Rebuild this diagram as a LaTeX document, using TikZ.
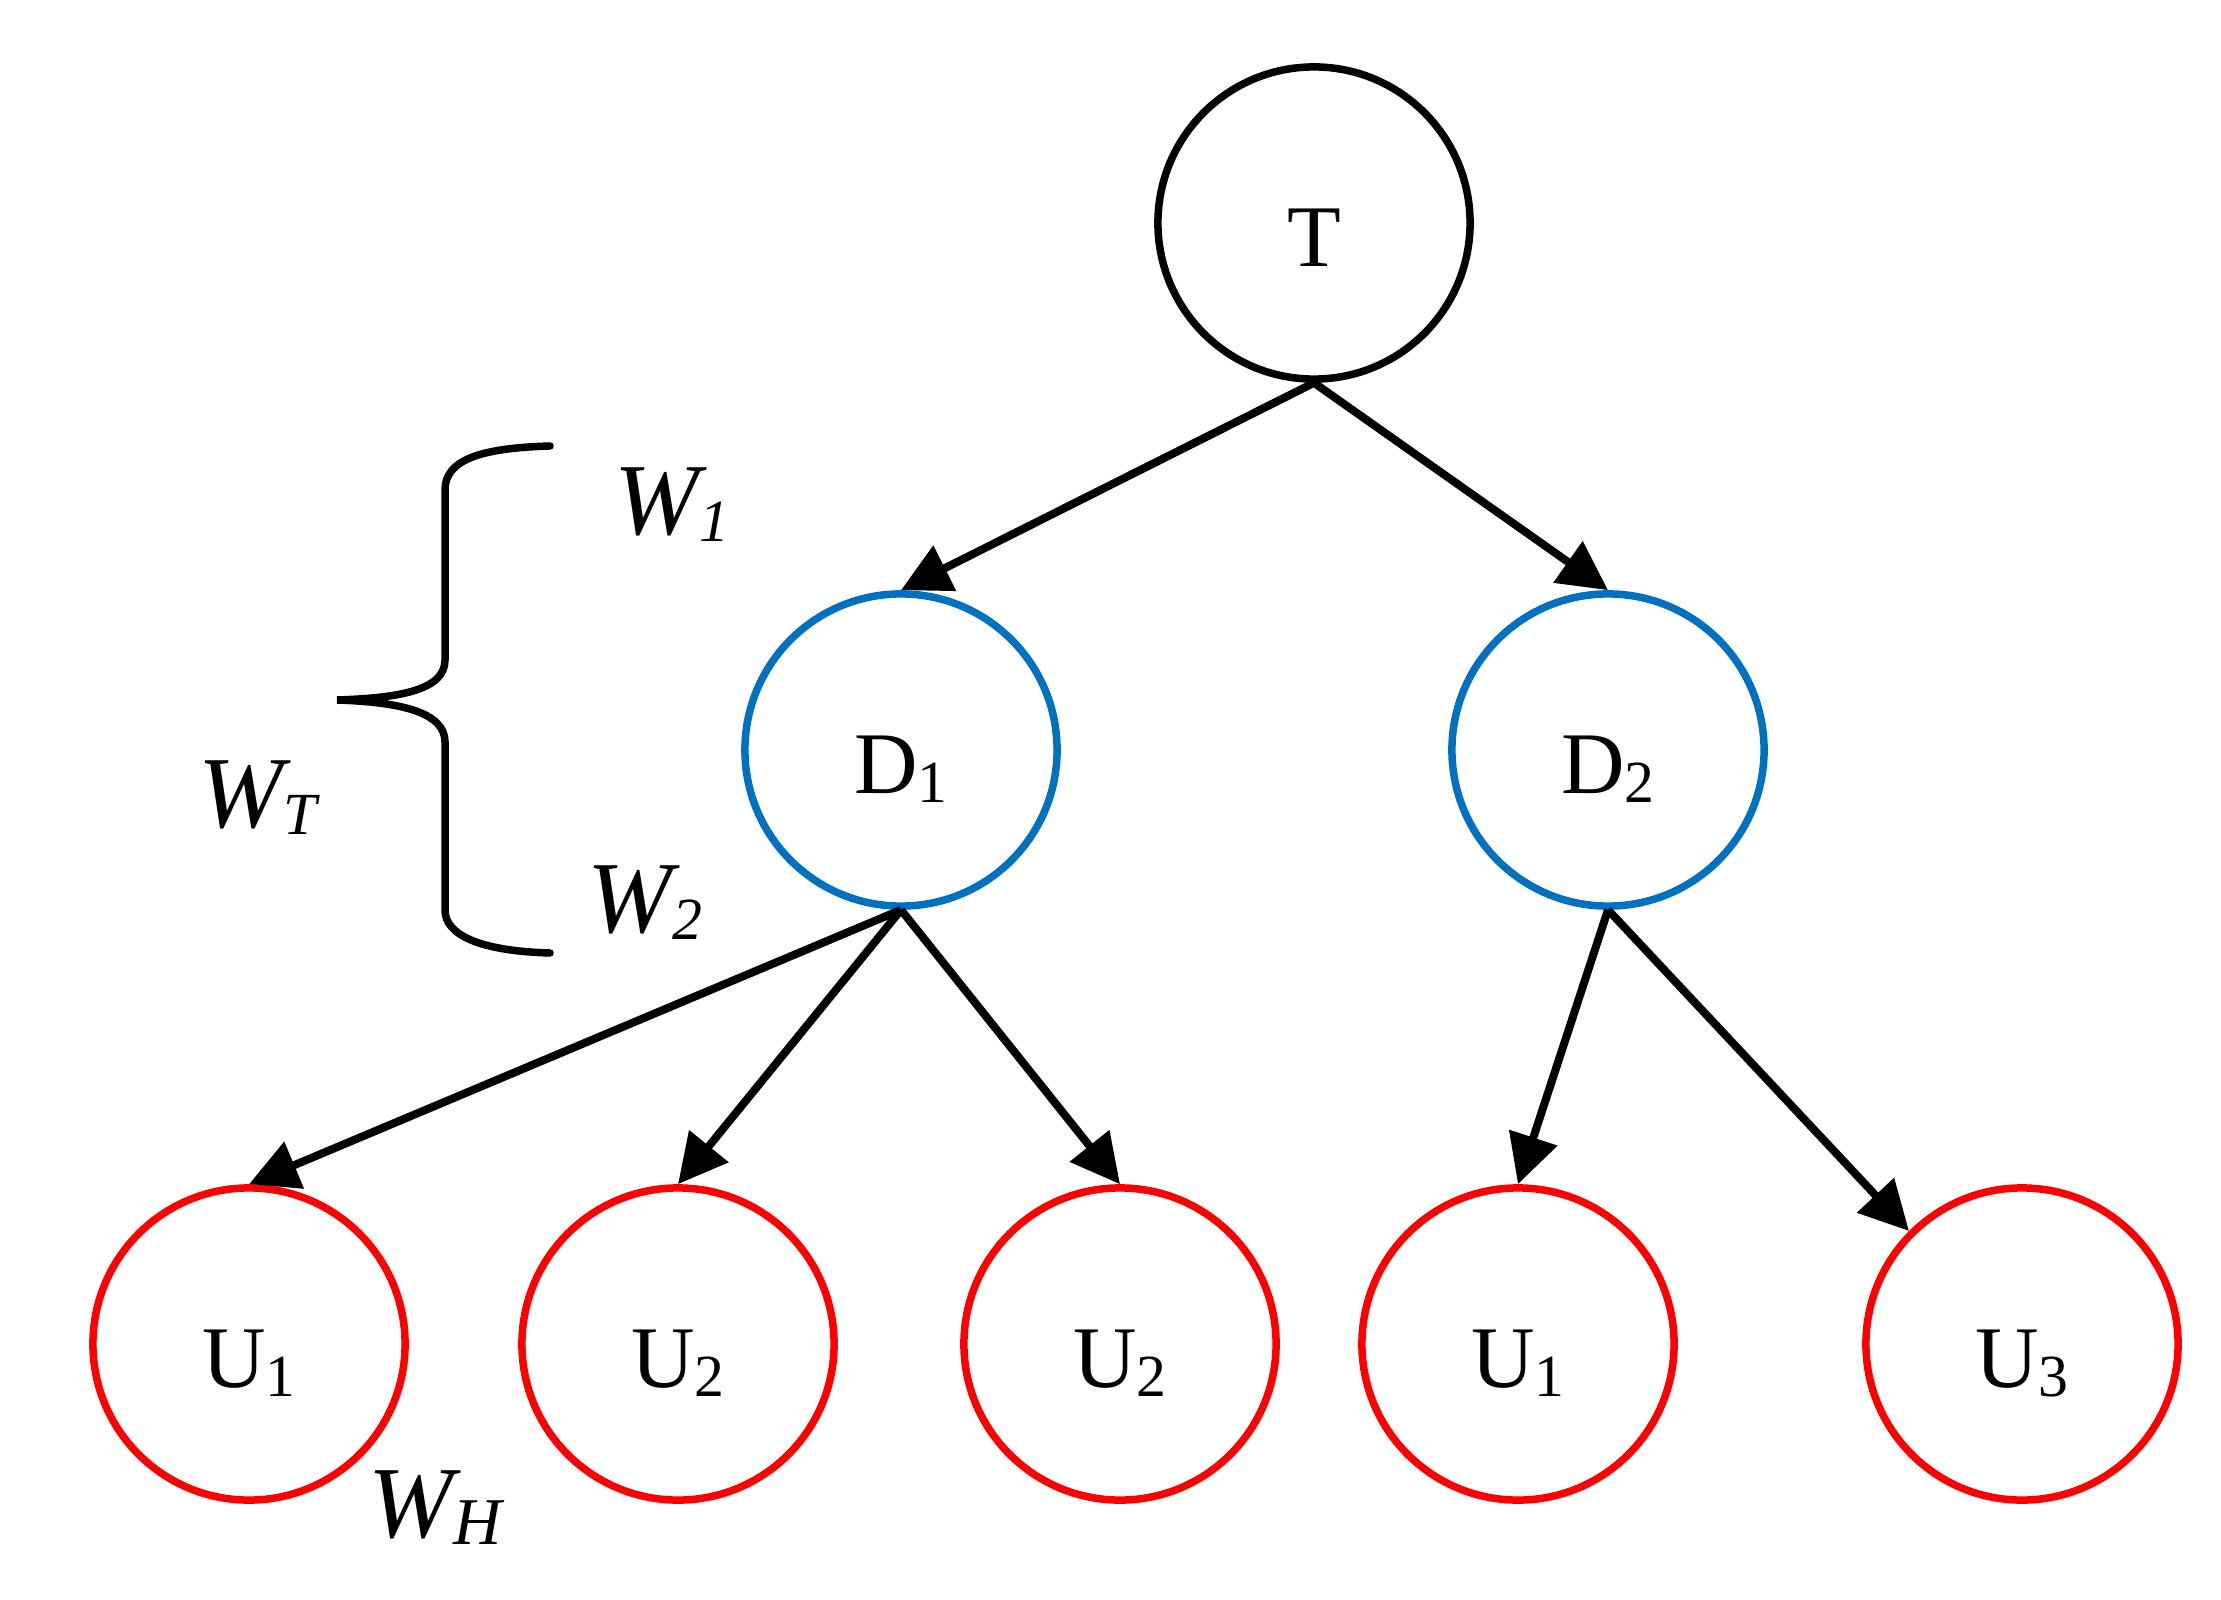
\documentclass[tikz,border=0pt]{standalone}
\usepackage{fontspec}
\setmainfont{Liberation Serif}
\usetikzlibrary{arrows.meta}
\newcommand\nsub[1]{\raisebox{-2.6pt}{\fontsize{17}{20}\selectfont #1}}
\newcommand\lsub[2][17]{\raisebox{-2.2pt}{\fontsize{#1}{20}\selectfont\itshape #2}}
\definecolor{nblue}{HTML}{0070C0}
\definecolor{nred}{HTML}{FF0000}
\begin{document}
\begin{tikzpicture}[x=0.01cm, y=-0.01cm,
  circ/.style={circle, draw, line width=0.075cm, minimum size=3.12cm, inner sep=0pt,
    font=\fontsize{25}{30}\selectfont, text height=0.86cm, text depth=0pt},
  tnode/.style={circ, draw=black},
  dnode/.style={circ, draw=nblue},
  unode/.style={circ, draw=nred},
  arr/.style={line width=0.08cm, -{Triangle[length=0.49cm, width=0.49cm]}},
  lab/.style={inner sep=0pt, anchor=base west, font=\fontsize{29}{34}\selectfont\itshape},
  bracestyle/.style={line width=0.075cm, line cap=round}]
\useasboundingbox (0,0) rectangle (2221,1600);

% nodes
\node[tnode] (T)   at (1314,223)  {T};
\node[dnode] (D1)  at (901,750)   {D\nsub{1}};
\node[dnode] (D2)  at (1608,750)  {D\nsub{2}};
\node[unode] (U1a) at (249,1344)  {U\nsub{1}};
\node[unode] (U2a) at (678,1344)  {U\nsub{2}};
\node[unode] (U2b) at (1120,1344) {U\nsub{2}};
\node[unode] (U1b) at (1518,1344) {U\nsub{1}};
\node[unode] (U3)  at (2022,1344) {U\nsub{3}};

% connectors
\draw[arr] (T.south) -- (D1.north);
\draw[arr] (T.south) -- (D2.north);
\draw[arr] (D1.south) -- (U1a.north);
\draw[arr] (D1.south) -- (U2a.north);
\draw[arr] (D1.south) -- (U2b.north);
\draw[arr] (D2.south) -- (U1b.north);
\draw[arr] (D2.south) -- (U3.north west);

% brace
\draw[bracestyle] (550,446) .. controls (480,448) and (445,460) .. (445,490)
  -- (445,660) .. controls (445,690) and (400,698) .. (337,700)
  .. controls (400,702) and (445,712) .. (445,742)
  -- (445,910) .. controls (445,935) and (480,951) .. (550,953);

% labels
\node[lab] (w1) at (614,534)  {W\lsub{1}};
\node[lab] (wt) at (198,827)  {W\lsub{T}};
\node[lab] (w2) at (587,932)  {W\lsub{2}};
\node[lab] (wh) at (368,1537) {W\lsub[19]{H}};
\end{tikzpicture}
\end{document}
